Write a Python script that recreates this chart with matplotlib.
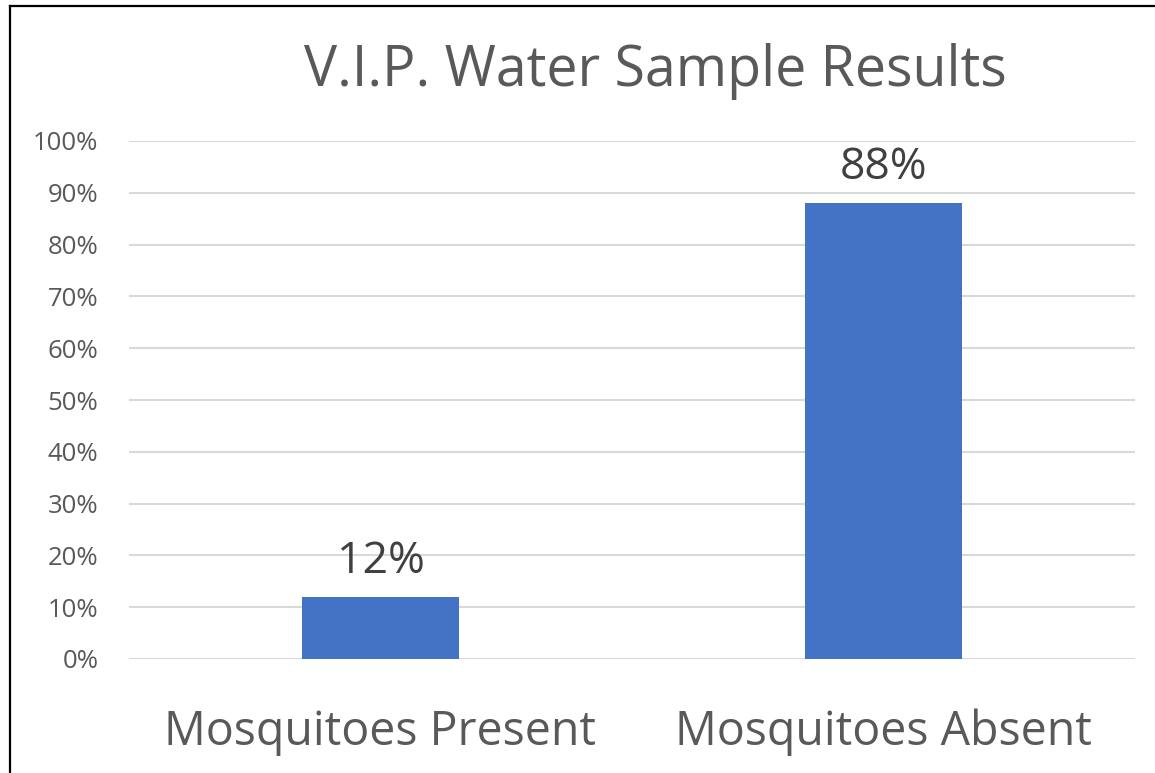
import matplotlib.pyplot as plt
from matplotlib.lines import Line2D
import numpy as np

categories = ["Mosquitoes Present", "Mosquitoes Absent"]
values = [12, 88]
value_labels = ["12%", "88%"]
yticks = list(range(0, 101, 10))

plt.rcParams['font.family'] = ['Open Sans', 'DejaVu Sans']

fig = plt.figure(figsize=(11.55, 7.73), dpi=100)
ax = fig.add_axes([129 / 1155, 114 / 773, 1006 / 1155, 518 / 773])

x = np.arange(len(categories))
ax.bar(x, values, width=0.312, color='#4472c4', zorder=3)

ax.set_xlim(-0.5, len(categories) - 0.5)
ax.set_ylim(0, 100)
ax.set_yticks(yticks)
ax.set_yticklabels([f"{t}%" for t in yticks], fontsize=18.5, color='#595959')
ax.tick_params(axis='both', length=0)
ax.tick_params(axis='y', pad=22)
ax.set_xticks(x)
ax.set_xticklabels(categories, fontsize=33.5, color='#595959')
ax.tick_params(axis='x', pad=36)
ax.grid(axis='y', color='#d9d9d9', linewidth=1.5, zorder=0)
for s in ax.spines.values():
    s.set_visible(False)

for xi, v, lab in zip(x, values, value_labels):
    ax.text(xi, v + 2.5, lab, ha='center', va='bottom', fontsize=32, color='#404040')

fig.text(655 / 1155, 1 - 72 / 773, "V.I.P. Water Sample Results", ha='center', va='center',
         fontsize=40, color='#595959')

# outer frame (cropped: only left and top edges visible)
fig.add_artist(Line2D([10 / 1155, 10 / 1155], [0, 1 - 6 / 773], transform=fig.transFigure,
                      color='black', linewidth=1.6))
fig.add_artist(Line2D([10 / 1155, 1], [1 - 6 / 773, 1 - 6 / 773], transform=fig.transFigure,
                      color='black', linewidth=1.6))

fig.savefig('out.png', dpi=100)
